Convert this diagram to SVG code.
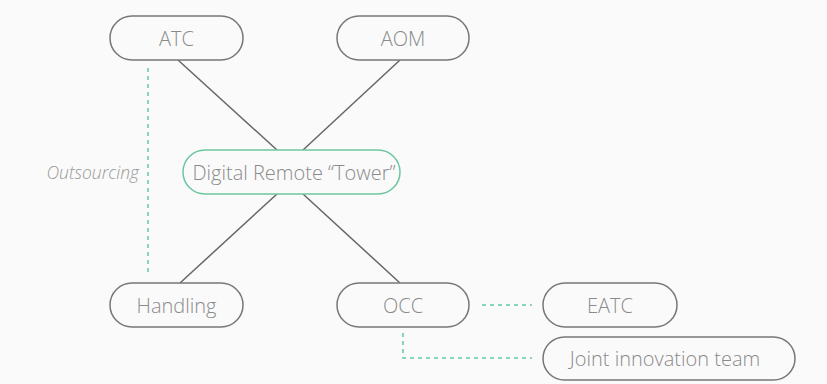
<svg xmlns="http://www.w3.org/2000/svg" width="827" height="384" viewBox="0 0 827 384">
  <style>
    .node rect { fill: #fafafa; stroke: #777; stroke-width: 1.5; }
    .node.hub rect { stroke: #6cc7a0; }
    .node text { font-family: "Open Sans", "Liberation Sans", sans-serif; font-weight: 300; font-size: 20px; fill: #8a8a8a; text-anchor: middle; dominant-baseline: central; }
    .link { stroke: #666; stroke-width: 1.5; fill: none; }
    .dash { stroke: #5fcba0; stroke-width: 1.5; fill: none; stroke-dasharray: 4 4; }
    .label { font-family: "Open Sans", "Liberation Sans", sans-serif; font-weight: 300; font-style: italic; font-size: 17.5px; fill: #999; text-anchor: end; dominant-baseline: central; }
  </style>
  <rect width="827" height="384" fill="#fafafa"/>

  <g id="connectors">
    <line class="link" x1="178" y1="60" x2="277" y2="150"/>
    <line class="link" x1="400" y1="60" x2="303" y2="150"/>
    <line class="link" x1="277" y1="194" x2="180" y2="283"/>
    <line class="link" x1="303" y1="194" x2="400" y2="283"/>
    <line class="dash" x1="148" y1="68" x2="148" y2="276"/>
    <text class="label" x="139" y="172">Outsourcing</text>
    <line class="dash" x1="482" y1="305" x2="532" y2="305"/>
    <polyline class="dash" points="403,333 403,358 532,358"/>
  </g>

  <g id="atc" class="node">
    <rect x="110" y="16" width="133" height="44" rx="22"/>
    <text x="176.5" y="38">ATC</text>
  </g>
  <g id="aom" class="node">
    <rect x="337" y="16" width="132" height="44" rx="22"/>
    <text x="403" y="38">AOM</text>
  </g>
  <g id="tower" class="node hub">
    <rect x="183" y="150" width="217" height="44" rx="22"/>
    <text x="294" y="172">Digital Remote “Tower”</text>
  </g>
  <g id="handling" class="node">
    <rect x="110" y="283" width="133" height="44" rx="22"/>
    <text x="176.5" y="305">Handling</text>
  </g>
  <g id="occ" class="node">
    <rect x="337" y="283" width="132" height="44" rx="22"/>
    <text x="403" y="305">OCC</text>
  </g>
  <g id="eatc" class="node">
    <rect x="543" y="283" width="134" height="44" rx="22"/>
    <text x="610" y="305">EATC</text>
  </g>
  <g id="joint" class="node">
    <rect x="543" y="337" width="252" height="43" rx="21.5"/>
    <text x="665" y="358.5">Joint innovation team</text>
  </g>
</svg>
